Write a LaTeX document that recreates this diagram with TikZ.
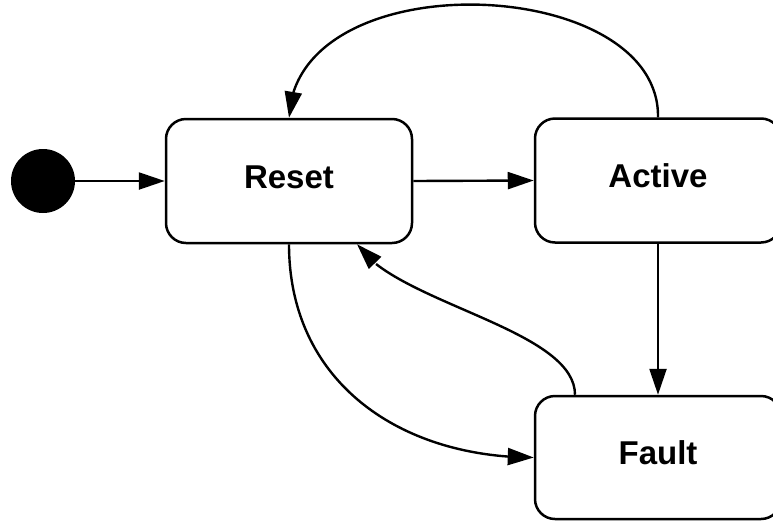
\documentclass[tikz,border=0pt]{standalone}
\usepackage{fontspec}
\setmainfont{Liberation Sans}
\usetikzlibrary{arrows.meta,bending}
\begin{document}
\begin{tikzpicture}[x=1pt,y=-1pt,
  state/.style={draw, line width=2.5pt, rounded corners=20pt, minimum width=246pt,
    minimum height=124pt, inner sep=0pt, text height=23.5pt, text depth=9pt,
    font=\fontsize{33}{39}\selectfont\bfseries},
  arr/.style={line width=2.4pt, -{Triangle[length=26pt,width=17pt]}},
  startdot/.style={circle, fill=black, minimum size=64pt, inner sep=0pt}]
\useasboundingbox (0,0) rectangle (773,520);
\clip (0,0) rectangle (773,520);
\node[startdot] (init) at (43,181) {};
\node[state] (reset) at (289,181) {Reset};
\node[state] (active) at (658,180.5) {Active};
\node[state, minimum height=123pt] (fault) at (658,457.5) {Fault};
\draw[arr] (init) -- (reset.west);
\draw[arr] (reset.east) -- (active.west);
\draw[arr] (active.south) -- (fault.north);
\draw[arr] (active.north) .. controls +(2,-143) and +(6,-158) .. (reset.north);
\draw[arr] (reset.south) .. controls +(0,137) and +(-135,0) .. (fault.west);
\draw[arr] ([xshift=-83pt]fault.north) .. controls +(0,-66) and +(38,59) .. ([xshift=68pt]reset.south);
\end{tikzpicture}
\end{document}
